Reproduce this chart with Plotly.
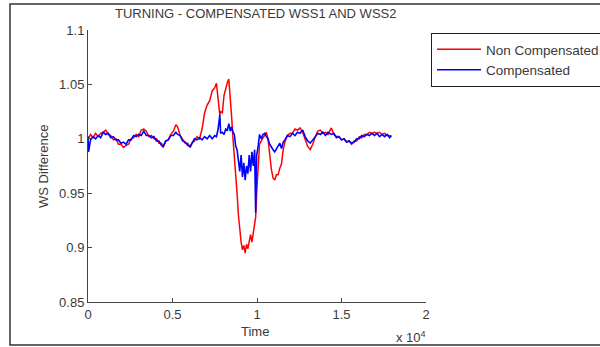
import plotly.graph_objects as go

TIME = [
    0, 30, 150, 300, 450, 600, 750, 900, 1050, 1200,
    1350, 1500, 1650, 1800, 1950, 2100, 2250, 2400, 2550, 2700,
    2850, 3000, 3150, 3300, 3450, 3600, 3750, 3900, 4050, 4200,
    4350, 4450, 4600, 4750, 4900, 5050, 5200, 5300, 5450, 5600,
    5750, 5900, 6050, 6150, 6300, 6450, 6600, 6750, 6900, 7050,
    7200, 7350, 7500, 7600, 7700, 7800, 7850, 7950, 8050, 8150,
    8250, 8330, 8420, 8500, 8580, 8660, 8740, 8820, 8900, 8980,
    9060, 9140, 9220, 9300, 9380, 9460, 9540, 9620, 9700, 9780,
    9860, 9920, 9980, 10060, 10150, 10250, 10350, 10450, 10550, 10650,
    10750, 10850, 10950, 11050, 11150, 11250, 11350, 11450, 11550, 11650,
    11800, 11950, 12100, 12250, 12400, 12550, 12700, 12850, 13000, 13150,
    13300, 13450, 13600, 13750, 13900, 14050, 14200, 14400, 14550, 14700,
    14850, 15000, 15150, 15300, 15450, 15600, 15750, 15900, 16050, 16200,
    16350, 16500, 16650, 16800, 16950, 17100, 17250, 17400, 17550, 17700,
    17850, 17950,
]

NON_COMPENSATED = [
    1.002, 1.000, 1.004, 1.001, 1.005, 1.002, 1.005, 1.006, 1.008, 1.004,
    1.003, 0.999, 1.000, 0.995, 0.995, 0.992, 0.994, 0.995, 1.000, 1.001,
    1.004, 1.002, 1.008, 1.009, 1.007, 1.002, 1.003, 1.000, 1.000, 0.996,
    0.996, 0.992, 0.998, 0.999, 1.004, 1.007, 1.013, 1.011, 1.003, 1.000,
    0.996, 0.996, 0.992, 0.996, 0.998, 1.002, 1.000, 1.009, 1.024, 1.031,
    1.035, 1.044, 1.047, 1.051, 1.036, 1.022, 1.025, 1.024, 1.040, 1.047,
    1.052, 1.055, 1.040, 1.020, 1.000, 0.985, 0.972, 0.950, 0.930, 0.915,
    0.905, 0.898, 0.902, 0.895, 0.903, 0.899, 0.908, 0.912, 0.905, 0.915,
    0.920, 0.928, 0.950, 0.975, 0.995, 0.998, 1.001, 1.004, 1.006, 1.000,
    0.985, 0.972, 0.964, 0.962, 0.967, 0.967, 0.973, 0.977, 0.990, 0.997,
    1.003, 1.005, 1.005, 1.009, 1.008, 1.010, 1.006, 0.999, 0.993, 0.990,
    0.995, 1.002, 1.007, 1.008, 1.005, 1.006, 1.004, 1.010, 1.004, 1.002,
    1.002, 0.999, 1.000, 0.997, 0.998, 0.995, 0.998, 0.998, 1.002, 1.001,
    1.004, 1.004, 1.006, 1.005, 1.006, 1.005, 1.006, 1.004, 1.005, 1.003,
    1.003, 1.002,
]

COMPENSATED = [
    1.002, 0.988, 0.999, 1.002, 1.000, 1.003, 1.001, 1.006, 1.004, 1.005,
    1.001, 1.002, 0.999, 0.999, 0.996, 0.997, 0.995, 0.999, 0.999, 1.003,
    1.002, 1.004, 1.003, 1.007, 1.003, 1.003, 1.001, 1.002, 0.998, 0.998,
    0.994, 0.993, 0.998, 0.999, 1.003, 1.003, 1.006, 1.004, 1.003, 0.998,
    0.997, 0.994, 0.993, 0.996, 1.000, 0.999, 1.001, 0.999, 1.002, 1.000,
    1.003, 1.000, 1.003, 1.002, 1.009, 1.022, 1.005, 1.006, 1.004, 1.009,
    1.008, 1.014, 1.007, 1.011, 1.006, 1.004, 0.993, 0.990, 0.982, 0.970,
    0.985, 0.965, 0.978, 0.962, 0.975, 0.968, 0.985, 0.970, 0.988, 0.975,
    0.990, 0.932, 0.985, 0.992, 1.004, 1.000, 1.004, 1.005, 1.002, 1.000,
    0.995, 0.992, 0.990, 0.988, 0.991, 0.994, 0.996, 0.991, 0.997, 0.999,
    1.003, 1.002, 1.005, 1.003, 1.006, 1.005, 1.008, 1.002, 0.998, 0.996,
    0.999, 1.001, 1.005, 1.004, 1.006, 1.003, 1.006, 1.004, 1.005, 1.001,
    1.002, 0.999, 1.000, 0.997, 0.998, 0.996, 0.997, 1.000, 1.000, 1.003,
    1.002, 1.004, 1.003, 1.005, 1.003, 1.005, 1.002, 1.004, 1.002, 1.004,
    1.001, 1.003,
]

X_TICKS = [0, 5000, 10000, 15000, 20000]
X_TICK_LABELS = ["0", "0.5", "1", "1.5", "2"]
Y_TICKS = [0.85, 0.9, 0.95, 1.0, 1.05, 1.1]
Y_TICK_LABELS = ["0.85", "0.9", "0.95", "1", "1.05", "1.1"]

FONT = "Liberation Sans, Arial, sans-serif"
TXT = "#3a3a3a"

fig = go.Figure()
fig.add_trace(go.Scatter(x=TIME, y=NON_COMPENSATED, mode="lines",
                         name="Non Compensated",
                         line=dict(color="#ff0000", width=1.5)))
fig.add_trace(go.Scatter(x=TIME, y=COMPENSATED, mode="lines",
                         name="Compensated",
                         line=dict(color="#0000ff", width=1.6)))

fig.update_layout(
    width=600, height=347,
    margin=dict(l=88, r=174, t=30, b=45, autoexpand=False),
    paper_bgcolor="white", plot_bgcolor="white",
    font=dict(family=FONT, size=13, color=TXT),
    showlegend=True,
    legend=dict(x=1.0148, y=0.989, xanchor="left", yanchor="top",
                bordercolor="#222222", borderwidth=1, bgcolor="white",
                font=dict(size=13.5, color=TXT), itemwidth=44,
                tracegroupgap=0),
    xaxis=dict(range=[0, 20000], tickvals=X_TICKS, ticktext=X_TICK_LABELS,
               showline=True, linecolor="#444444", linewidth=1,
               ticks="inside", ticklen=4, tickcolor="#444444",
               showgrid=False, zeroline=False, mirror=False,
               tickfont=dict(size=13, color=TXT)),
    yaxis=dict(range=[0.85, 1.1], tickvals=Y_TICKS, ticktext=Y_TICK_LABELS,
               showline=True, linecolor="#444444", linewidth=1,
               ticks="inside", ticklen=4, tickcolor="#444444",
               showgrid=False, zeroline=False, mirror=False,
               tickfont=dict(size=13, color=TXT)),
)

fig.add_shape(type="rect", xref="paper", yref="paper",
              x0=-0.2308, x1=1.6, y0=-0.158, y1=1.0956,
              line=dict(color="#333333", width=1.5), layer="below")

fig.add_annotation(text="TURNING - COMPENSATED WSS1 AND WSS2",
                   xref="paper", yref="paper", x=0.495, y=1.06,
                   xanchor="center", yanchor="middle", showarrow=False,
                   font=dict(size=13, color=TXT))
fig.add_annotation(text="WS Difference", xref="paper", yref="paper",
                   x=-0.133, y=0.5, textangle=-90, showarrow=False,
                   xanchor="center", yanchor="middle",
                   font=dict(size=13, color=TXT))
fig.add_annotation(text="Time", xref="paper", yref="paper",
                   x=0.494, y=-0.107, showarrow=False,
                   xanchor="center", yanchor="middle",
                   font=dict(size=13, color=TXT))
fig.add_annotation(text="x 10<sup>4</sup>", xref="paper", yref="paper",
                   x=0.955, y=-0.13, showarrow=False,
                   xanchor="center", yanchor="middle",
                   font=dict(size=13, color=TXT))

fig.write_html("out.html")
